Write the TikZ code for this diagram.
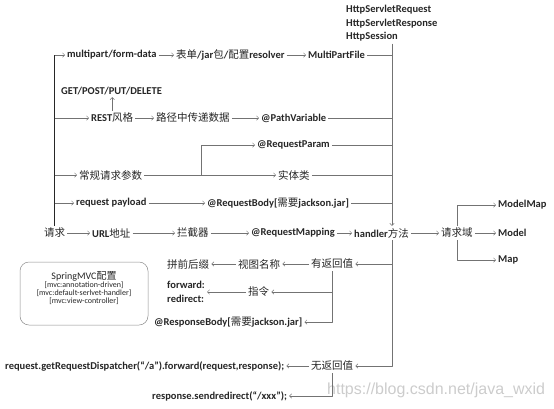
\documentclass[tikz,border=0pt]{standalone}
\usepackage{fontspec}
\setmainfont{Carlito}
\newfontfamily\zhfont{Noto Sans CJK SC}
\newfontfamily\wmfont{Liberation Sans}
\newcommand{\zh}[1]{{\zhfont\mdseries #1}}
\usetikzlibrary{arrows.meta}

\begin{document}
\begin{tikzpicture}[x=1pt, y=-1pt, line join=round,
  txt/.style={anchor=west, inner sep=2pt, text=black!85, font=\fontsize{10.5}{12}\selectfont\bfseries},
  link/.style={draw=black!55, line width=0.5pt},
  arr/.style={link, -{Straight Barb[length=2.2pt,width=4.4pt]}}]
\useasboundingbox (0,0) rectangle (554,408);
\node[anchor=west, inner sep=0pt, text=black!20, font=\wmfont\fontsize{16}{18}\selectfont] (wm) at (327,390) {https://blog.csdn.net/java\_wxid};
\coordinate (busR) at (392,0);
\coordinate (cgsplit) at (201,175);
\node[txt, align=left, font=\fontsize{10.5}{13.5}\selectfont\bfseries] (servlet) at (344,23.5) {HttpServletRequest\\HttpServletResponse\\HttpSession};
\node[txt] (mp) at (65,55) {multipart/form-data};
\node[txt] (form) at (174,55) {\zh{表单}/jar\zh{包}/\zh{配置}resolver};
\node[txt] (mpf) at (306,55) {MultiPartFile};
\node[txt] (get) at (59,91) {GET/POST/PUT/DELETE};
\node[txt] (rest) at (89,118) {REST\zh{风格}};
\node[txt] (path) at (154,118) {\zh{路径中传递数据}};
\node[txt] (pv) at (259,118) {@PathVariable};
\node[txt] (rp) at (255,145) {@RequestParam};
\node[txt] (cg) at (77,175) {\zh{常规请求参数}};
\node[txt] (st) at (276,175) {\zh{实体类}};
\node[txt] (pl) at (74,203) {request payload};
\node[txt] (rb) at (205,203) {@RequestBody[\zh{需要}jackson.jar]};
\node[txt] (qq) at (42,233) {\zh{请求}};
\node[txt] (url) at (90,233) {URL\zh{地址}};
\node[txt] (ljq) at (175,233) {\zh{拦截器}};
\node[txt] (rm) at (249,233) {@RequestMapping};
\node[txt] (hd) at (352,233) {handler\zh{方法}};
\node[txt] (qqy) at (439,233) {\zh{请求域}};
\node[txt] (mm) at (496,205) {ModelMap};
\node[txt] (model) at (496,233) {Model};
\node[txt] (map) at (496,260) {Map};
\node[txt] (yfh) at (309,264) {\zh{有返回值}};
\node[txt] (stmc) at (236,264) {\zh{视图名称}};
\node[txt] (pqh) at (165,264) {\zh{拼前后缀}};
\node[txt] (zl) at (246,292) {\zh{指令}};
\node[txt, align=left, font=\fontsize{10.5}{14}\selectfont\bfseries] (fw) at (165,292) {forward:\\redirect:};
\node[txt] (resb) at (152,322) {@ResponseBody[\zh{需要}jackson.jar]};
\node[txt] (wfh) at (309,366) {\zh{无返回值}};
\node[txt] (disp) at (3,366) {request.getRequestDispatcher(“/a”).forward(request,response);};
\node[txt] (sendr) at (150,396) {response.sendredirect(“/xxx”);};
\node[draw=black!45, line width=0.5pt, rounded corners=9pt, minimum width=128pt, minimum height=63pt] (cfg) at (84,293.5) {};
\node[inner sep=0pt, text=black!85, font=\fontsize{10}{12}\selectfont] (cfgtitle) at (84,276) {SpringMVC\zh{配置}};
\node[inner sep=0pt, text=black!85, align=center, font=\fontsize{8}{8}\selectfont] (cfglist) at (84,293) {{[mvc:annotation-driven]}\\{[mvc:default-serlvet-handler]}\\{[mvc:view-controller]}};
\draw[link, draw=black!85, line width=0.8pt] (qq.north) -- (qq.north |- mp);
\draw[arr] (qq.north |- mp) -- (mp.west);
\draw[arr] (qq.north |- rest) -- (rest.west);
\draw[arr] (qq.north |- cg) -- (cg.west);
\draw[arr] (qq.north |- pl) -- (pl.west);
\draw[arr] (mp.east) -- (form.west);
\draw[arr] (form.east) -- (mpf.west);
\draw[arr] (rest.north) -- (rest.north |- get.south);
\draw[arr] (rest.east) -- (path.west);
\draw[arr] (path.east) -- (pv.west);
\draw[arr] (cg.east) -- (st.west);
\draw[arr] (cgsplit) |- (rp.west);
\draw[arr] (pl.east) -- (rb.west);
\draw[link] (mpf.east) -- (busR |- mpf);
\draw[link] (pv.east) -- (busR |- pv);
\draw[link] (rp.east) -- (busR |- rp);
\draw[link] (st.east) -- (busR |- st);
\draw[link] (rb.east) -- (busR |- rb);
\draw[arr] (busR |- servlet.south) -- (busR |- hd.north);
\draw[arr] (qq.east) -- (url.west);
\draw[arr] (url.east) -- (ljq.west);
\draw[arr] (ljq.east) -- (rm.west);
\draw[arr] (rm.east) -- (hd.west);
\draw[arr] (hd.east) -- (qqy.west);
\draw[arr] (qqy.east) -- (model.west);
\draw[arr] (qqy.north) |- (mm.west);
\draw[arr] (qqy.south) |- (map.west);
\draw[arr] (busR |- hd.south) |- (wfh.east);
\draw[arr] (busR |- yfh) -- (yfh.east);
\draw[arr] (yfh.west) -- (stmc.east);
\draw[arr] (stmc.west) -- (pqh.east);
\draw[arr] (yfh.south) |- (resb.east);
\draw[arr] (yfh.south |- zl) -- (zl.east);
\draw[arr] (zl.west) -- (fw.east);
\draw[arr] (wfh.west) -- (disp.east);
\draw[arr] (wfh.south) |- (sendr.east);
\end{tikzpicture}
\end{document}
